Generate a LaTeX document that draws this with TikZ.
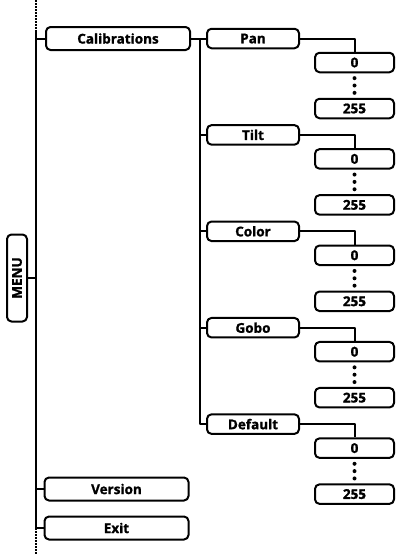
\documentclass[tikz,border=0pt]{standalone}
\usepackage{fontspec}
\setmainfont{Open Sans}[BoldFeatures={FakeBold=1.2}]
\usetikzlibrary{calc}

\tikzset{
  menubox/.style={draw,line width=2pt,rounded corners=4.5pt,minimum width=144pt,
    minimum height=23pt,inner sep=0pt,font=\bfseries\fontsize{13.5}{15}\selectfont},
  subbox/.style={menubox,minimum width=92pt,minimum height=19.5pt},
  valbox/.style={menubox,minimum width=79pt,minimum height=19.5pt},
  wire/.style={line width=2pt},
  dotline/.style={line width=2pt,dash pattern=on 1.5pt off 1.5pt},
}

\begin{document}
\begin{tikzpicture}[x=1pt,y=-1pt,line join=round]
    \useasboundingbox (0,0) rectangle (397,554);
    % main spine
    \coordinate (top) at (36,0);
    \coordinate (s1) at (36,30);
    \coordinate (bot) at (36,554);
    \coordinate (sub) at (200,0);

    \node[menubox] (cal) at (118,38.5) {Calibrations};
    \node[menubox] (ver) at (116.5,489) {Version};
    \node[menubox] (exit) at (116.5,528) {Exit};
    \node[menubox,rotate=90,minimum width=87pt,minimum height=20pt] (menu) at (17,278) {MENU};

    \draw[dotline] (top) -- (s1);
    \draw[wire] (s1) -- (exit.west -| s1);
    \draw[dotline] (exit.west -| s1) -- (bot);
    \foreach \n in {cal,ver,exit}
      \draw[wire] (\n.west) -- (\n.west -| s1);
    \draw[wire] (menu.south) -- (menu.south -| s1);

    % calibration items
    \foreach \n/\t [count=\i from 0] in {pan/Pan,tilt/Tilt,color/Color,gobo/Gobo,def/Default}{
      \pgfmathsetmacro\yy{38.5+96.4*\i}
      \node[subbox] (\n) at (253,\yy) {\t};
      \node[valbox] (\n0) at (354.5,\yy+24) {0};
      \node[valbox] (\n255) at (354.5,\yy+70) {255};
      \draw[wire] (\n.east) -| (\n0.north);
      \foreach \k in {0.2,0.5,0.8}
        \fill ($(\n0.south)!\k!(\n255.north)$) circle (2);
    }

    \draw[wire] (cal.east) -- (pan.west);
    \draw[wire] (cal.east -| sub) |- (def.west);
    \foreach \n in {tilt,color,gobo}
      \draw[wire] (\n.west) -- (\n.west -| sub);
\end{tikzpicture}
\end{document}
